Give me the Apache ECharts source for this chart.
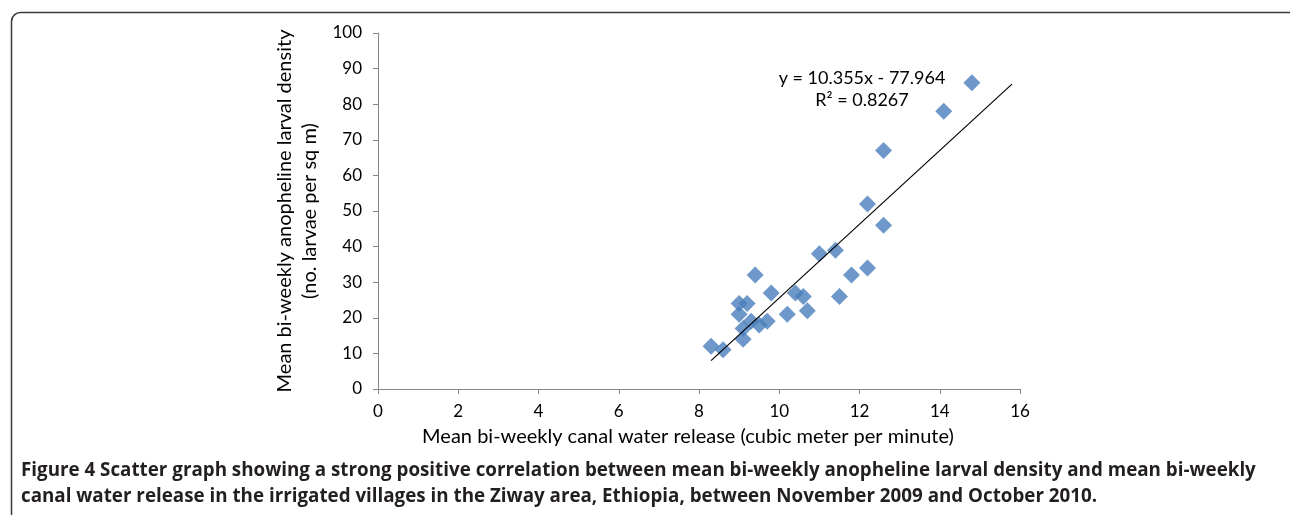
<!DOCTYPE html>
<html>
<head>
<meta charset="utf-8">
<script src="https://cdn.jsdelivr.net/npm/echarts@6/dist/echarts.min.js"></script>
<style>
html, body { margin: 0; padding: 0; background: #fff; }
#main { width: 1290px; height: 515px; }
</style>
</head>
<body>
<div id="main"></div>
<script>
// canal water release (x) and larval density (y)
var release = [8.3, 8.6, 9.0, 9.2, 9.0, 9.4, 9.1, 9.1, 9.3, 9.5, 9.7, 9.8, 10.2, 10.4, 10.6, 10.7,
	11.0, 11.4, 11.5, 11.8, 12.2, 12.2, 12.6, 12.6, 14.1, 14.8];
var density = [12, 11, 24, 24, 21, 32, 17, 14, 19, 18, 19, 27, 21, 27, 26, 22,
	38, 39, 26, 32, 34, 52, 46, 67, 78, 86];
var trendRange = [8.3, 15.8];
var trendCoef = [10.355, -77.964];
var eqText = ['y = 10.355x - 77.964', 'R² = 0.8267'];
var caption = ['Figure 4', ' Scatter graph showing a strong positive correlation between mean bi-weekly anopheline larval density and mean bi-weekly',
	'canal water release in the irrigated villages in the Ziway area, Ethiopia, between November 2009 and October 2010.'];

var points = [];
for (let i = 0; i < release.length; i++) {
	points.push([release[i], density[i]]);
}
var trend = trendRange.map(function (x) {
	return [x, trendCoef[0] * x + trendCoef[1]];
});

var font = 'Lato, "Open Sans", sans-serif';
var capFont = '"Open Sans", "Liberation Sans", sans-serif';

var option = {
	animation: false,
	grid: { left: 378, right: 270, top: 33, bottom: 126 },
	xAxis: {
		type: 'value', min: 0, max: 16, interval: 2,
		name: 'Mean bi-weekly canal water release (cubic meter per minute)',
		nameLocation: 'middle', nameGap: 38,
		nameTextStyle: { fontFamily: font, fontSize: 20, color: '#000', padding: [0, 22, 0, 0] },
		axisLine: { lineStyle: { color: '#868686', width: 1 } },
		axisTick: { show: true, length: 5, lineStyle: { color: '#868686' } },
		axisLabel: { fontFamily: font, fontSize: 17, color: '#000', margin: 14 },
		splitLine: { show: false }
	},
	yAxis: {
		type: 'value', min: 0, max: 100, interval: 10,
		name: 'Mean bi-weekly anopheline larval density\n(no. larvae per sq m)',
		nameLocation: 'middle', nameGap: 56,
		nameTextStyle: { fontFamily: font, fontSize: 20, color: '#000', lineHeight: 25 },
		axisLine: { show: true, lineStyle: { color: '#868686', width: 1 } },
		axisTick: { show: true, length: 5, lineStyle: { color: '#868686' } },
		axisLabel: { fontFamily: font, fontSize: 17, color: '#000', margin: 16 },
		splitLine: { show: false }
	},
	series: [{
		type: 'scatter',
		symbol: 'diamond',
		symbolSize: 17,
		itemStyle: { color: '#4a7ebb' },
		data: points,
		z: 3
	}, {
		type: 'line',
		data: trend,
		symbol: 'none',
		lineStyle: { color: '#000', width: 1.2 },
		z: 4
	}],
	graphic: [{
		type: 'rect', left: 9, top: 10,
		shape: { width: 1300, height: 520, r: 9 },
		style: { fill: 'none', stroke: '#3a3a3a', lineWidth: 1.5 },
		silent: true
	}, {
		type: 'text', x: 862, y: 67,
		style: { text: eqText[0] + '\n' + eqText[1], fontFamily: font, fontSize: 18, fill: '#000',
			align: 'center', verticalAlign: 'top', lineHeight: 22 }
	}, {
		type: 'text', left: 21, top: 461,
		style: {
			rich: {
				b: { fontFamily: capFont, fontSize: 18.8, fontWeight: 'bold', fill: '#231f20', lineHeight: 26 },
				n: { fontFamily: capFont, fontSize: 18.8, fontWeight: 'bold', fill: '#231f20', lineHeight: 26 }
			},
			text: '{b|' + caption[0] + '}{n|' + caption[1] + '}\n{n|' + caption[2] + '}'
		}
	}]
};

var myChart = echarts.init(document.getElementById('main'));
myChart.setOption(option);
</script>
</body>
</html>
